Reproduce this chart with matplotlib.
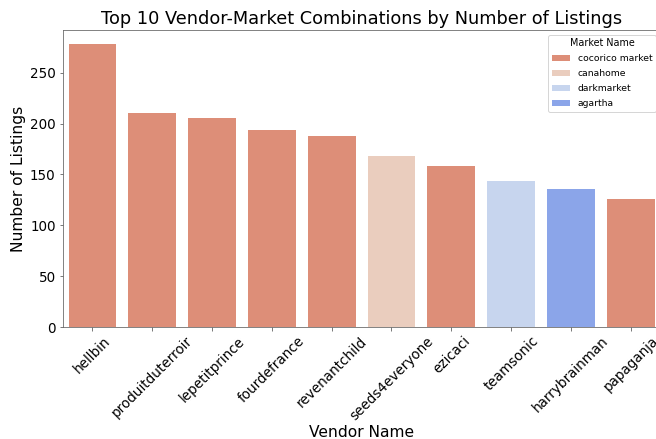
import matplotlib
matplotlib.use('Agg')
import matplotlib.pyplot as plt
import seaborn as sns
import pandas as pd

# data
vendors = ['hellbin', 'produitduterroir', 'lepetitprince', 'fourdefrance', 'revenantchild',
           'seeds4everyone', 'ezicaci', 'teamsonic', 'harrybrainman', 'papaganja']
markets = ['cocorico market', 'cocorico market', 'cocorico market', 'cocorico market', 'cocorico market',
           'canahome', 'cocorico market', 'darkmarket', 'agartha', 'cocorico market']
listings = [278, 210, 205, 194, 188, 168, 158, 144, 136, 126]

df = pd.DataFrame({'Vendor Name': vendors, 'Market Name': markets, 'Number of Listings': listings})

DPI = 72
fig = plt.figure(figsize=(656 / DPI, 439 / DPI), dpi=DPI)
# axes runs a little past the right edge, like the original crop
ax = fig.add_axes([0.0954, 0.255, 0.9116, 0.6765])

sns.barplot(data=df, x='Vendor Name', y='Number of Listings', hue='Market Name',
            palette='coolwarm_r', dodge=False, ax=ax)

ax.set_title('Top 10 Vendor-Market Combinations by Number of Listings', fontsize=17.8)
ax.set_xlabel('Vendor Name', fontsize=15.5, labelpad=2)
ax.set_ylabel('Number of Listings', fontsize=15.5)
ax.tick_params(axis='both', labelsize=13.5, colors='0.35', labelcolor='black')
plt.setp(ax.get_xticklabels(), rotation=45)
for s in ax.spines.values():
    s.set_color('0.4')

leg = ax.legend(title='Market Name', loc='upper right', fontsize=9.2, title_fontsize=9.6,
                labelspacing=0.65)
plt.savefig('out.png', dpi=DPI)
